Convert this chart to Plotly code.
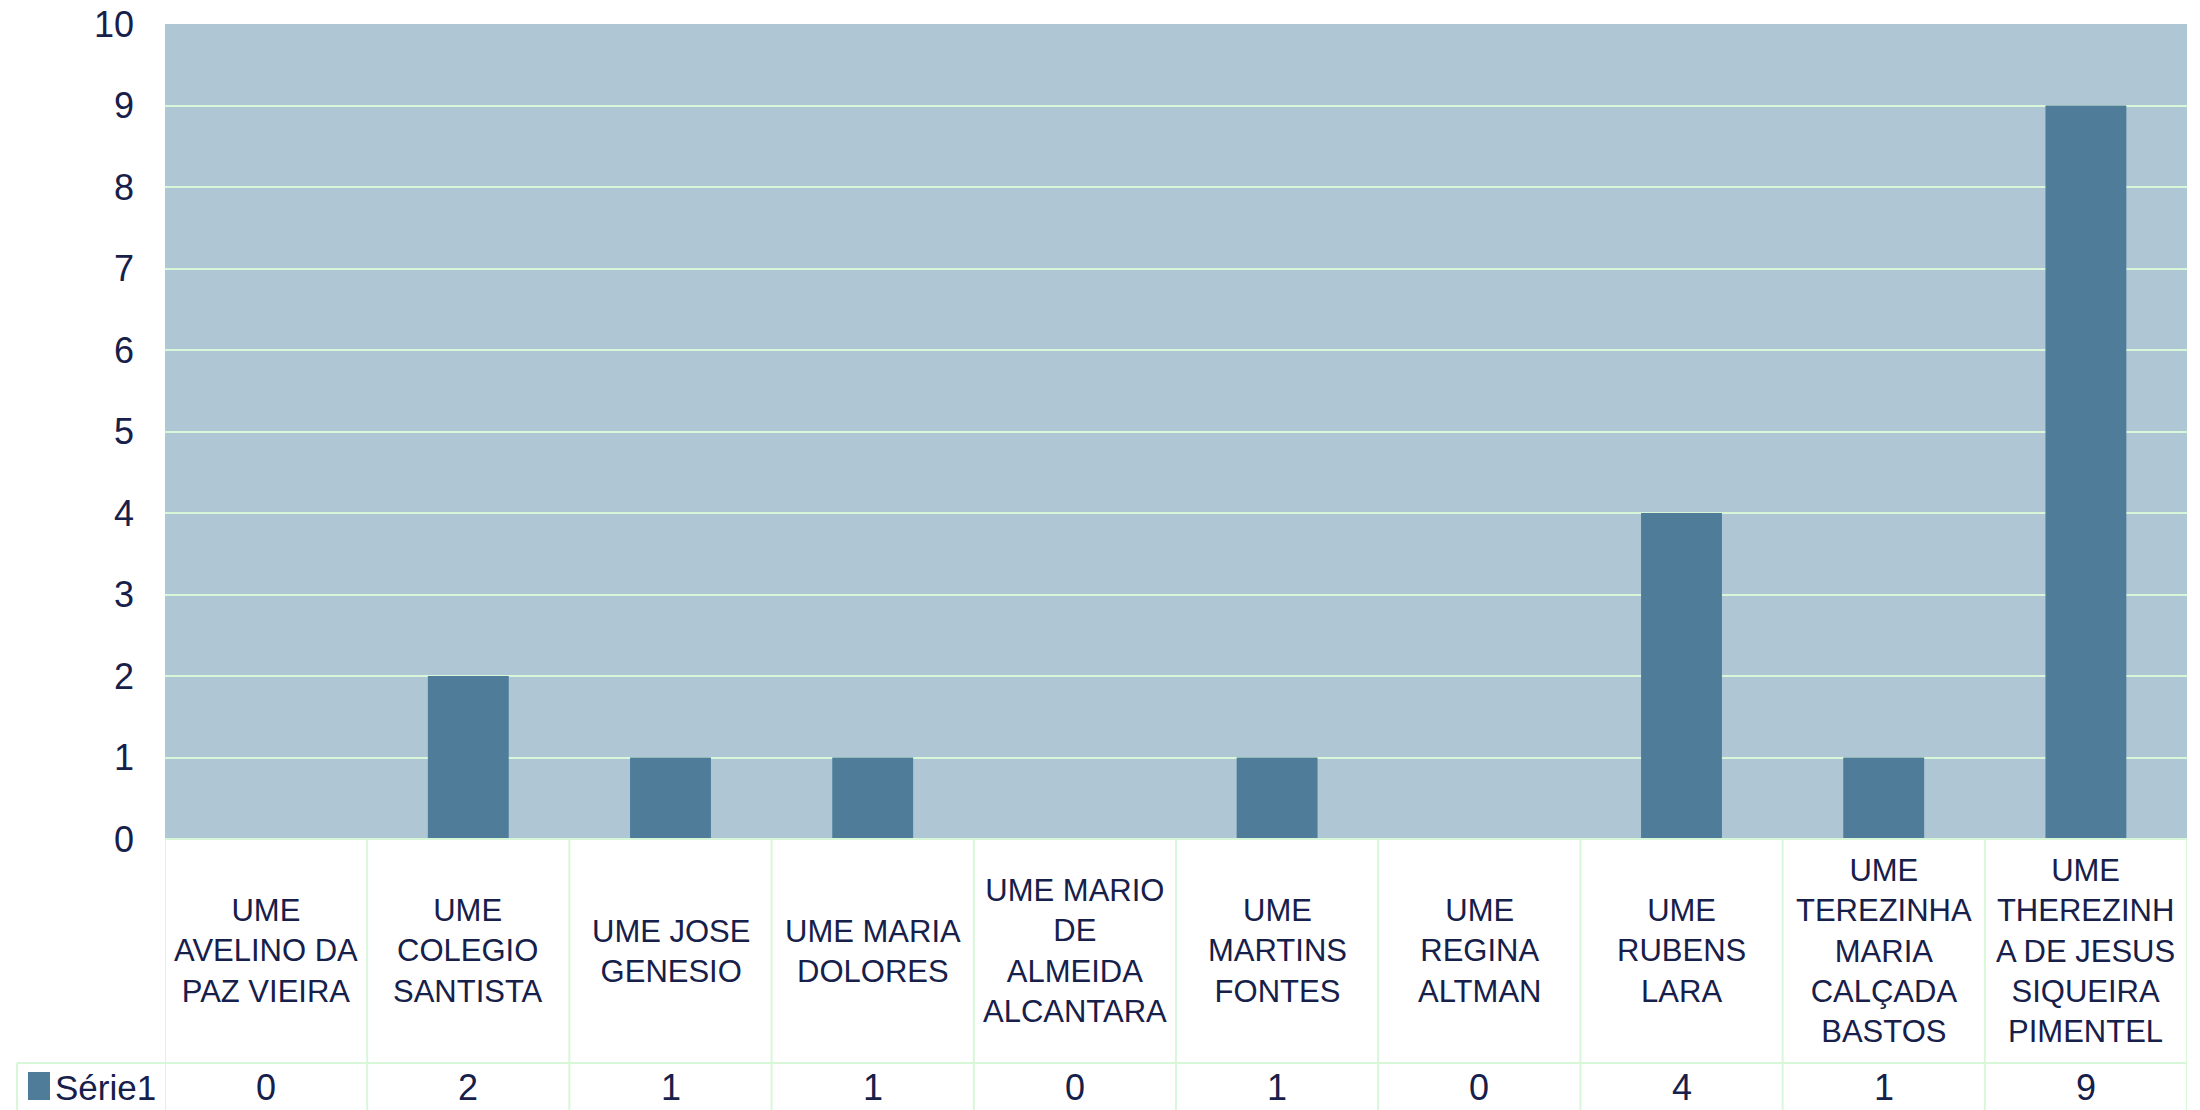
import plotly.graph_objects as go

categories = [
    "UME<br>AVELINO DA<br>PAZ VIEIRA",
    "UME<br>COLEGIO<br>SANTISTA",
    "UME JOSE<br>GENESIO",
    "UME MARIA<br>DOLORES",
    "UME MARIO<br>DE<br>ALMEIDA<br>ALCANTARA",
    "UME<br>MARTINS<br>FONTES",
    "UME<br>REGINA<br>ALTMAN",
    "UME<br>RUBENS<br>LARA",
    "UME<br>TEREZINHA<br>MARIA<br>CALÇADA<br>BASTOS",
    "UME<br>THEREZINH<br>A DE JESUS<br>SIQUEIRA<br>PIMENTEL",
]
series_name = "Série1"
values = [0, 2, 1, 1, 0, 1, 0, 4, 1, 9]
y_ticks = [0, 1, 2, 3, 4, 5, 6, 7, 8, 9, 10]

W, H = 2200, 1110
ML, MR, MT, MB = 165, 13, 24, 271
PW = W - ML - MR
PH = H - MT - MB

TXT = "#16204a"
GRID = "#d8f7d8"
BAR = "#4e7c99"
BG = "#afc6d5"


def py(page_y):
    """pixel y -> paper y"""
    return (H - MB - page_y) / PH


def pxx(page_x):
    return (page_x - ML) / PW


n = len(categories)
xs = list(range(n))

fig = go.Figure()
fig.add_trace(go.Bar(x=xs, y=values, marker=dict(color=BAR, line=dict(width=0)),
                     name=series_name, showlegend=False, hoverinfo="skip"))

shapes = []
ann = []
table_bottom = py(1115)
row_line = py(1063)
for i in range(n + 1):
    shapes.append(dict(type="line", xref="x", yref="paper", x0=i - 0.5, x1=i - 0.5,
                       y0=0, y1=table_bottom, line=dict(color=GRID, width=2)))
shapes.append(dict(type="line", xref="paper", yref="paper", x0=pxx(17), x1=1,
                   y0=row_line, y1=row_line, line=dict(color=GRID, width=2)))
shapes.append(dict(type="line", xref="paper", yref="paper", x0=0, x1=1,
                   y0=0, y1=0, line=dict(color=GRID, width=2)))
shapes.append(dict(type="line", xref="paper", yref="paper", x0=pxx(17), x1=pxx(17),
                   y0=row_line, y1=table_bottom, line=dict(color=GRID, width=2)))
shapes.append(dict(type="rect", xref="paper", yref="paper", x0=pxx(28), x1=pxx(50),
                   y0=py(1100), y1=py(1072), fillcolor=BAR, line=dict(width=0)))

for i, (c, v) in enumerate(zip(categories, values)):
    ann.append(dict(x=i, y=py(951), xref="x", yref="paper", text=c, showarrow=False,
                    xanchor="center", yanchor="middle", align="center",
                    font=dict(family="Liberation Sans", size=31, color=TXT)))
    ann.append(dict(x=i, y=py(1087), xref="x", yref="paper", text=str(v), showarrow=False,
                    xanchor="center", yanchor="middle",
                    font=dict(family="Liberation Sans", size=36, color=TXT)))

ann.append(dict(x=pxx(53), y=py(1087), xref="paper", yref="paper", text=series_name,
                showarrow=False, xanchor="left", yanchor="middle",
                font=dict(family="Liberation Sans", size=35, color=TXT)))

fig.update_layout(
    width=W, height=H,
    margin=dict(l=ML, r=MR, t=MT, b=MB, autoexpand=False),
    paper_bgcolor="white",
    plot_bgcolor=BG,
    bargap=0.6,
    shapes=shapes,
    annotations=ann,
    showlegend=False,
    font=dict(family="Liberation Sans", color=TXT),
)
fig.update_xaxes(range=[-0.5, n - 0.5], showticklabels=False, showgrid=False,
                 zeroline=False, showline=False, ticks="", automargin=False)
fig.update_yaxes(range=[0, 10], tickvals=y_ticks, showgrid=True, gridcolor=GRID, gridwidth=2,
                 zeroline=False, showline=False, ticks="", ticklabelstandoff=30,
                 ticklabeloverflow="allow", automargin=False,
                 tickfont=dict(family="Liberation Sans", size=36, color=TXT))

fig.write_html("out.html", config={"displayModeBar": False},
               post_script="document.body.style.margin='0';document.body.style.overflow='hidden';")
